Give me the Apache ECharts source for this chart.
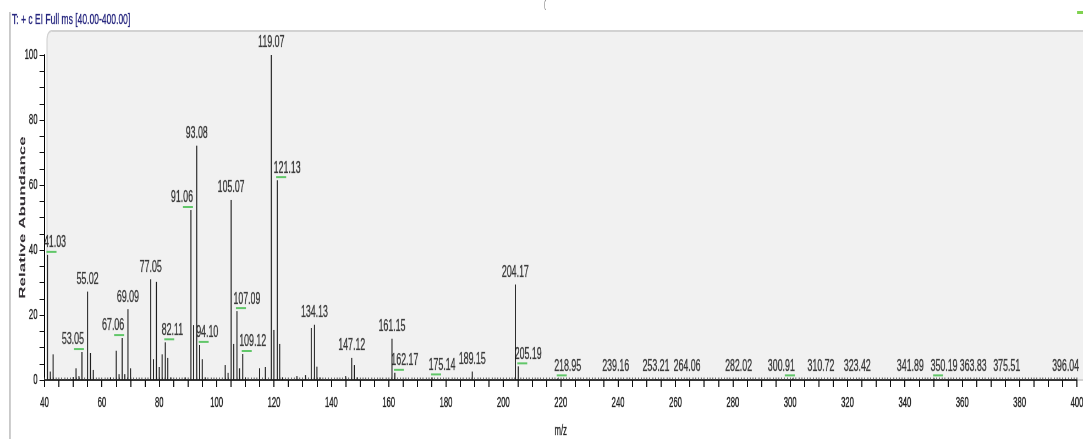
<!DOCTYPE html>
<html>
<head>
<meta charset="utf-8">
<script src="https://cdn.jsdelivr.net/npm/echarts@6/dist/echarts.min.js"></script>
<style>
  html, body { margin: 0; padding: 0; background: #fff; overflow: hidden; width: 1083px; height: 439px; }
  /* the spectrum is drawn wide and squeezed horizontally, like the instrument export */
  #chart { width: 1969px; height: 439px; transform: scaleX(0.55); transform-origin: 0 0; }
</style>
</head>
<body>
<div id="chart"></div>
<script>
// horizontal squeeze factor of the drawing; X() converts screen px to drawing px
const SX = 0.55;
const X = v => v / SX;

const titleText = 'T: + c EI Full ms [40.00-400.00]';
const xAxisName = 'm/z';
const yAxisName = 'Relative Abundance';

// labelled centroid peaks (m/z, relative abundance %)
const labelMz = [41.03, 53.05, 55.02, 67.06, 69.09, 77.05, 82.11, 91.06, 93.08, 94.10,
                 105.07, 107.09, 109.12, 119.07, 121.13, 134.13, 147.12, 161.15, 162.17, 175.14,
                 189.15, 204.17, 205.19, 218.95, 239.16, 253.21, 264.06, 282.02, 300.91, 310.72,
                 323.42, 341.89, 350.19, 363.83, 375.51, 396.04];
const labelAbundance = [38.5, 8.6, 27.2, 12.9, 21.8, 31.0, 11.6, 52.3, 72.1, 10.8,
                        55.4, 21.2, 8.0, 100, 61.5, 17.0, 6.8, 12.7, 2.2, 0.8,
                        2.6, 29.4, 4.2, 0.5, 0.3, 0.3, 0.3, 0.3, 0.5, 0.3,
                        0.3, 0.3, 0.5, 0.3, 0.3, 0.3];

// unlabelled stick peaks
const stickMz = [42, 43, 50, 51, 52, 56, 57, 63, 65, 66, 68, 70, 78, 79, 80, 81, 83, 84, 89,
                 92, 95, 96, 103, 104, 106, 108, 110, 115, 117, 120, 122, 123, 128, 131, 133,
                 135, 136, 145, 148, 149];
const stickAbundance = [2.6, 7.9, 0.9, 3.6, 1.2, 8.3, 3.1, 0.8, 9.0, 1.8, 1.8, 3.6, 6.4, 30.2, 4.0, 7.9, 6.8, 0.8, 0.8,
                        16.9, 6.4, 0.8, 4.6, 2.2, 11.1, 3.6, 0.8, 3.6, 4.0, 15.4, 11.1, 0.8, 1.2, 1.5, 16.0,
                        4.1, 0.8, 1.2, 4.6, 0.8];

// axis tick labels
const xTickLabels = [40, 60, 80, 100, 120, 140, 160, 180, 200, 220, 240, 260, 280, 300, 320, 340, 360, 380, 400];
const yTickLabels = [0, 20, 40, 60, 80, 100];

// label placement: text set to the left or right of its stick, with a green flag
const flagLeft = [53.05, 67.06, 91.06, 300.91];
const flagRight = [41.03, 82.11, 94.10, 107.09, 109.12, 121.13, 162.17, 175.14, 205.19, 218.95, 350.19];

const FONT = '"Liberation Sans", Arial, sans-serif';
const INK = '#151515';
const GREEN = '#3dbb47';
// a faint outline thickens glyphs that the horizontal squeeze makes thin
const thick = c => ({ textBorderColor: c, textBorderWidth: 0.7 });

const sticks = labelMz.map((m, i) => [m, labelAbundance[i]])
  .concat(stickMz.map((m, i) => [m, stickAbundance[i]]));

const labelItems = labelMz.map((m, i) => {
  const item = { value: [m, labelAbundance[i]] };
  if (flagRight.includes(m)) {
    item.label = { align: 'left', distance: 1, offset: [X(-3.5), 0] };
  } else if (flagLeft.includes(m)) {
    item.label = { align: 'right', distance: 1, offset: [X(2), 0] };
  }
  return item;
});

const chart = echarts.init(document.getElementById('chart'), null, { renderer: 'canvas' });

chart.setOption({
  animation: false,
  backgroundColor: '#ffffff',
  grid: { left: X(44.5), right: X(6), top: 55, bottom: 59, containLabel: false, outerBoundsMode: 'none' },
  graphic: {
    elements: [
      { type: 'rect', z: -10, shape: { x: X(47), y: 31, width: X(1083 - 47) + 20, height: 349, r: [8, 0, 0, 0] },
        style: { fill: '#f1f1f1', stroke: '#d2d2d2', lineWidth: 2 } },
      { type: 'line', z: -5, shape: { x1: X(10), y1: 12, x2: X(10), y2: 439 },
        style: { stroke: '#a8a8a8', lineWidth: 2 } },
      { type: 'text', z: 5, x: X(12), y: 12,
        style: { text: titleText, font: '15.5px ' + FONT, fill: '#26267f', stroke: 'rgba(38,38,127,0.55)', lineWidth: 0.6 } },
      { type: 'rect', z: 5, shape: { x: X(1077), y: 11, width: X(6), height: 3 },
        style: { fill: '#7fd24f' } },
      { type: 'text', z: 5, x: X(544), y: 0,
        style: { text: '(', font: '10px ' + FONT, fill: '#555' } }
    ]
  },
  xAxis: [
    {
      type: 'value', min: 40, max: 400, interval: 5,
      name: xAxisName, nameLocation: 'middle', nameGap: 44, nameMoveOverlap: false,
      nameTextStyle: Object.assign({ fontFamily: FONT, fontSize: 14, color: '#222' }, thick('rgba(34,34,34,0.55)')),
      axisLine: { show: true, onZero: false, lineStyle: { color: '#000', width: 1.5 } },
      axisTick: { show: true, length: 7, lineStyle: { color: '#111', width: 2 } },
      axisLabel: Object.assign({
        margin: 16, fontFamily: FONT, fontSize: 14, color: '#222',
        formatter: v => xTickLabels.includes(v) ? String(v) : ''
      }, thick('rgba(34,34,34,0.55)')),
      splitLine: { show: false }
    },
    {
      // fine baseline comb along the axis
      type: 'value', min: 40, max: 400, interval: 1, position: 'bottom',
      axisLine: { show: false },
      axisTick: { show: true, inside: true, length: 2.5, lineStyle: { color: '#444', width: 1.5 } },
      axisLabel: { show: false },
      splitLine: { show: false }
    }
  ],
  yAxis: {
    type: 'value', min: 0, max: 100, interval: 5,
    name: yAxisName, nameLocation: 'middle', nameRotate: 90, nameGap: 31, nameMoveOverlap: false,
    nameTextStyle: { fontFamily: FONT, fontSize: 17, fontWeight: 'bold', color: '#353035' },
    axisLine: { show: true, lineStyle: { color: '#000', width: 2 } },
    axisTick: { show: true, length: X(5), lineStyle: { color: '#111', width: 1 } },
    axisLabel: Object.assign({
      margin: X(7), fontFamily: FONT, fontSize: 14, color: '#222',
      formatter: v => yTickLabels.includes(v) ? String(v) : ''
    }, thick('rgba(34,34,34,0.55)')),
    splitLine: { show: false }
  },
  series: [
    {
      type: 'custom',
      xAxisIndex: 0,
      encode: { x: 0, y: 1 },
      data: sticks,
      z: 3,
      renderItem: (params, api) => {
        const top = api.coord([api.value(0), api.value(1)]);
        const base = api.coord([api.value(0), 0]);
        return {
          type: 'line',
          shape: { x1: top[0], y1: top[1], x2: base[0], y2: base[1] },
          style: { stroke: '#1e1e1e', lineWidth: 1.9 }
        };
      }
    },
    {
      type: 'scatter',
      xAxisIndex: 0,
      data: labelItems,
      symbolSize: 1,
      itemStyle: { color: 'transparent' },
      z: 4,
      label: {
        show: true, position: 'top', distance: 4,
        formatter: p => {
          const m = p.value[0];
          const t = '{t|' + m.toFixed(2) + '}';
          if (flagRight.includes(m)) return t + '\n{s|}{g|}';
          if (flagLeft.includes(m)) return t + '\n{g|}';
          return t;
        },
        rich: {
          t: Object.assign({ fontFamily: FONT, fontSize: 16, color: INK, lineHeight: 15 }, thick('rgba(21,21,21,0.55)')),
          s: { width: X(2.5), height: 2, lineHeight: 3 },
          g: { width: X(10), height: 2, lineHeight: 3, backgroundColor: GREEN }
        }
      },
      emphasis: { disabled: true }
    }
  ]
});
</script>
</body>
</html>
